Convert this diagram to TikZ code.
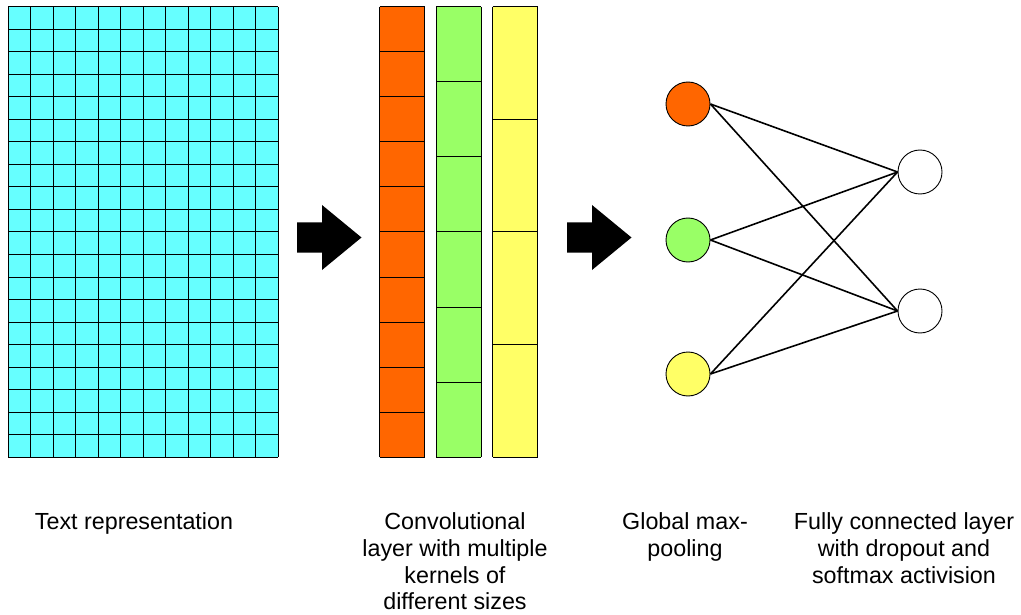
\documentclass[tikz,border=0pt]{standalone}
\usepackage{fontspec}
\setmainfont{Liberation Sans}
\definecolor{gridcyan}{HTML}{66FFFF}
\definecolor{korange}{HTML}{FF6600}
\definecolor{kgreen}{HTML}{99FF66}
\definecolor{kyellow}{HTML}{FFFF66}
\begin{document}
\begin{tikzpicture}[x=1pt,y=-1pt,
  cellline/.style={draw=black,line width=1pt},
  neuron/.style={circle,draw=black,line width=0.9pt,minimum size=44pt,inner sep=0pt},
  link/.style={draw=black,line width=1.6pt},
  bigarrow/.style={fill=black,draw=none},
  caption/.style={font=\fontsize{23.3}{26.8}\selectfont,align=center,anchor=north,inner sep=0pt,text=black}]
\useasboundingbox (0,0) rectangle (1021,615);
% text representation grid
\fill[gridcyan] (8,7) rectangle (278,457);
\foreach \i in {0,...,12} \draw[cellline] (8+22.5*\i,7) -- (8+22.5*\i,457);
\foreach \j in {0,...,20} \draw[cellline] (8,7+22.5*\j) -- (278,7+22.5*\j);
% arrows
\fill[bigarrow] (297,222.5) -- (322,222.5) -- (322,205) -- (361.5,237.5) -- (322,270) -- (322,252.5) -- (297,252.5) -- cycle;
\fill[bigarrow] (567,222.5) -- (592,222.5) -- (592,205) -- (631.5,237.5) -- (592,270) -- (592,252.5) -- (567,252.5) -- cycle;
% kernels
\fill[korange] (379.5,7) rectangle (424.5,457);
\foreach \j in {0,...,10} \draw[cellline] (379.5,7+45*\j) -- (424.5,7+45*\j);
\draw[cellline] (379.5,7) -- (379.5,457) (424.5,7) -- (424.5,457);
\fill[kgreen] (436,7) rectangle (481,457);
\foreach \j in {0,...,6} \draw[cellline] (436,7+75*\j) -- (481,7+75*\j);
\draw[cellline] (436,7) -- (436,457) (481,7) -- (481,457);
\fill[kyellow] (492.5,7) rectangle (537.5,457);
\foreach \j in {0,...,4} \draw[cellline] (492.5,7+112.5*\j) -- (537.5,7+112.5*\j);
\draw[cellline] (492.5,7) -- (492.5,457) (537.5,7) -- (537.5,457);
% pooling neurons
\node[neuron,fill=korange] (p1) at (688,104) {};
\node[neuron,fill=kgreen] (p2) at (688,240) {};
\node[neuron,fill=kyellow] (p3) at (688,374) {};
% output neurons
\node[neuron,fill=white] (o1) at (920,172) {};
\node[neuron,fill=white] (o2) at (920,311) {};
\foreach \p in {p1,p2,p3} \foreach \o in {o1,o2} \draw[link] (\p.east) -- (\o.west);
% captions
\node[caption] (c1) at (134,512.5) {Text representation};
\node[caption] (c2) at (455,512.5) {Convolutional\\layer with multiple\\kernels of\\different sizes};
\node[caption] (c3) at (685,512.5) {Global max-\\pooling};
\node[caption] (c4) at (904,512.5) {Fully connected layer\\with dropout and\\softmax activision};
\end{tikzpicture}
\end{document}
